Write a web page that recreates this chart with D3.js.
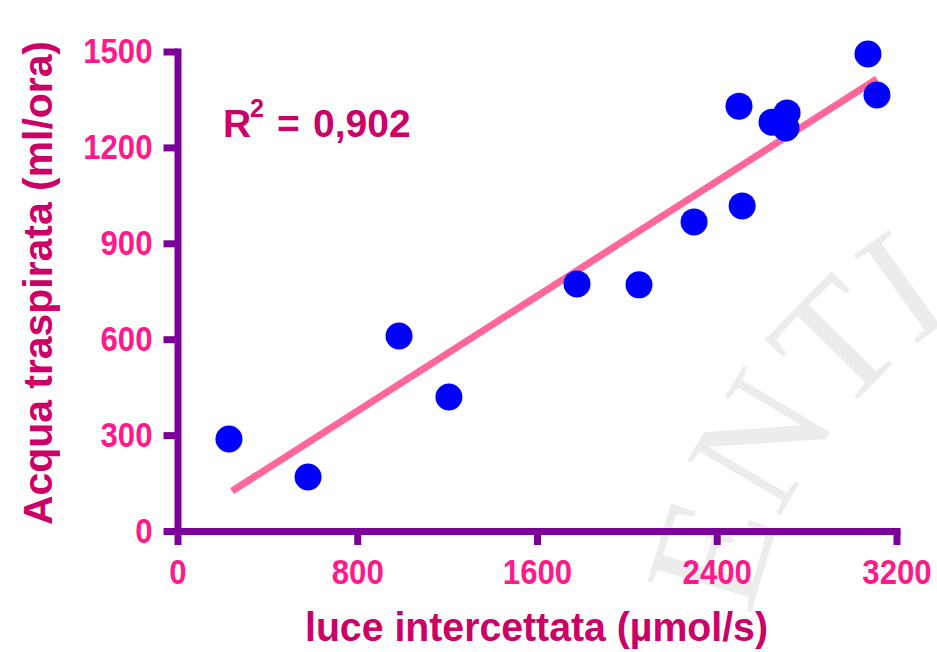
<!DOCTYPE html>
<html>
<head>
<meta charset="utf-8">
<script src="https://cdn.jsdelivr.net/npm/d3@7"></script>
<style>
  html, body { margin: 0; padding: 0; background: #ffffff; }
  svg { display: block; }
</style>
</head>
<body>
<svg id="chart" width="937" height="652"></svg>
<script>
// ---- data ----
const lightX = [229, 581, 986, 1208, 1778, 2054, 2299, 2513, 2499, 2646, 2713, 2708, 3073, 3113];
const waterY = [288, 169, 610, 419, 773, 770, 967, 1017, 1329, 1279, 1308, 1261, 1492, 1364];
const fitX = [243, 3113];
const fitY = [125, 1414];
const xTicks = [0, 800, 1600, 2400, 3200];
const yTicks = [0, 300, 600, 900, 1200, 1500];
const xTitle = "luce intercettata (µmol/s)";
const yTitle = "Acqua traspirata (ml/ora)";
const r2Label = ["R", "2", "=", "0,902"];
const watermarkText = "ENTIA";

// ---- styles ----
const axisColor = "#7a0099";
const tickColor = "#ff1a8c";
const titleColor = "#cc0066";
const pointColor = "#0000ff";
const lineColor = "#ff6699";
const font = "'Liberation Sans', Arial, sans-serif";

const svg = d3.select("#chart");

// watermark (faint seal letters)
const defs = svg.append("defs");
defs.append("path").attr("id", "wmArc")
  .attr("d", "M746.7,660.3 A455,455 0 0 1 1200,245");
svg.append("text")
  .attr("font-family", "'Liberation Serif', 'DejaVu Serif', serif")
  .attr("font-size", 165)
  .attr("fill", "#ececec")
  .append("textPath")
  .attr("href", "#wmArc")
  .attr("startOffset", 43)
  .text(watermarkText);

const x = d3.scaleLinear().domain([0, 3200]).range([177.5, 896.5]);
const y = d3.scaleLinear().domain([0, 1500]).range([531, 51.5]);

// fit line
svg.append("line")
  .attr("x1", x(fitX[0])).attr("y1", y(fitY[0]))
  .attr("x2", x(fitX[1])).attr("y2", y(fitY[1]))
  .attr("stroke", lineColor).attr("stroke-width", 7);

// axes
const yAxis = d3.axisLeft(y).tickValues(yTicks).tickSize(14).tickSizeOuter(0).tickPadding(11).tickFormat(d3.format("d"));
const xAxis = d3.axisBottom(x).tickValues(xTicks).tickSize(14).tickSizeOuter(0).tickPadding(14).tickFormat(d3.format("d"));

const gy = svg.append("g").attr("transform", `translate(${x(0)},0)`).call(yAxis);
const gx = svg.append("g").attr("transform", `translate(0,${y(0)})`).call(xAxis);

[gx, gy].forEach(g => {
  g.select(".domain").attr("stroke", axisColor).attr("stroke-width", 7).attr("stroke-linecap", "square");
  g.selectAll(".tick line").attr("stroke", axisColor).attr("stroke-width", 7);
  g.selectAll(".tick text")
    .attr("fill", tickColor)
    .attr("font-family", font)
    .attr("font-weight", "bold")
    .attr("font-size", 35)
    .each(function () {
      const w = this.getComputedTextLength();
      d3.select(this).attr("textLength", w * 0.89).attr("lengthAdjust", "spacingAndGlyphs");
    });
});

// points
svg.append("g").selectAll("circle")
  .data(lightX.map((d, i) => [d, waterY[i]]))
  .join("circle")
  .attr("cx", d => x(d[0]))
  .attr("cy", d => y(d[1]))
  .attr("r", 13.5)
  .attr("fill", pointColor);

// R^2 label
const rt = svg.append("text")
  .attr("font-family", font).attr("font-weight", "bold")
  .attr("fill", titleColor).attr("font-size", 39)
  .attr("x", 223).attr("y", 137);
rt.append("tspan").text(r2Label[0]);
rt.append("tspan").attr("x", 250).attr("y", 117).attr("font-size", 25).text(r2Label[1]);
rt.append("tspan").attr("x", 277).attr("y", 137).text(r2Label[2]);
rt.append("tspan").attr("x", 313).attr("y", 137).text(r2Label[3]);

// axis titles
svg.append("text")
  .attr("font-family", font).attr("font-weight", "bold")
  .attr("fill", titleColor).attr("font-size", 41)
  .attr("text-anchor", "middle")
  .attr("x", 536.5).attr("y", 641)
  .attr("textLength", 463).attr("lengthAdjust", "spacingAndGlyphs")
  .text(xTitle);

svg.append("text")
  .attr("font-family", font).attr("font-weight", "bold")
  .attr("fill", titleColor).attr("font-size", 40)
  .attr("text-anchor", "middle")
  .attr("transform", "translate(52,283) rotate(-90)")
  .attr("textLength", 484).attr("lengthAdjust", "spacingAndGlyphs")
  .text(yTitle);
</script>
</body>
</html>
